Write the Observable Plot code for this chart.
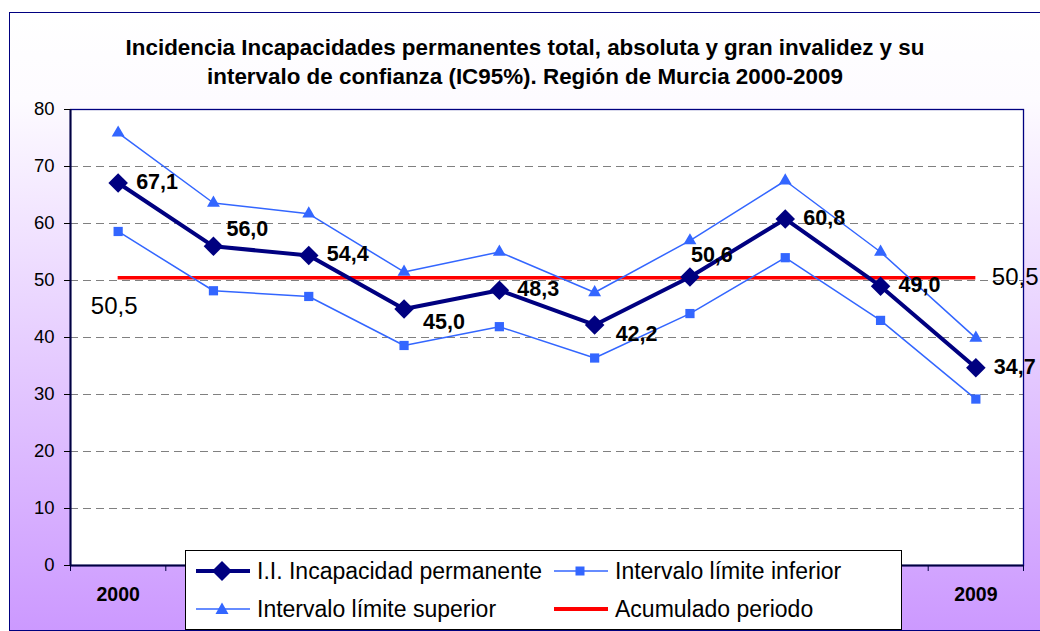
<!DOCTYPE html>
<html>
<head>
<meta charset="utf-8">
<script src="https://cdn.jsdelivr.net/npm/d3@7"></script>
<script src="https://cdn.jsdelivr.net/npm/@observablehq/plot@0.6"></script>
<style>
  body { margin: 0; background: #fff; font-family: "Liberation Sans", Arial, sans-serif; }
  #wrap { position: relative; width: 1040px; height: 631px; overflow: hidden; background: #fff; }
  #frame { position: absolute; left: 9px; top: 12px; width: 1060px; height: 617px;
           border: 1.5px solid #000080;
           background: linear-gradient(to bottom, #ffffff 0%, #fdfbff 14%, #cc99ff 100%); }
  #title { position: absolute; left: 0; width: 1050px; top: 33px; text-align: center;
           font-weight: bold; font-size: 22.4px; line-height: 29px; color: #000; }
  #chart { position: absolute; left: 0; top: 0; }
  #legend { position: absolute; left: 185px; top: 550px; width: 717px; height: 80px;
            background: #fff; border: 1px solid #000; box-sizing: border-box;
            display: grid; grid-template-columns: 358px auto; grid-auto-rows: 38px;
            padding: 1px 0 0 9px; font-size: 23px; color: #000; }
  .item { display: flex; align-items: center; }
  .item svg { margin-right: 6px; flex: none; }
</style>
</head>
<body>
<div id="wrap">
  <div id="frame"></div>
  <div id="title">Incidencia Incapacidades permanentes total, absoluta y gran invalidez y su<br>intervalo de confianza (IC95%). Región de Murcia 2000-2009</div>
  <div id="chart"></div>
  <div id="legend"></div>
</div>
<script>
// ---- data ----
const years = [2000, 2001, 2002, 2003, 2004, 2005, 2006, 2007, 2008, 2009];
const incidencia = [67.1, 56.0, 54.4, 45.0, 48.3, 42.2, 50.6, 60.8, 49.0, 34.7];
const limiteInferior = [58.6, 48.2, 47.2, 38.6, 41.9, 36.4, 44.2, 54.0, 43.0, 29.2];
const limiteSuperior = [75.9, 63.6, 61.7, 51.5, 55.0, 47.9, 57.0, 67.5, 55.0, 39.9];
const acumulado = 50.5;
const yTicks = [0, 10, 20, 30, 40, 50, 60, 70, 80];
const xTickLabels = [2000, 2009]; // the only year labels left visible beside the legend
const seriesNames = ["I.I. Incapacidad permanente", "Intervalo límite inferior", "Intervalo límite superior", "Acumulado periodo"];

// ---- styling ----
const NAVY = "#000080", BLUE = "#3366ff", RED = "#ff0000";
const fmt = v => v.toFixed(1).replace(".", ",");
// label placement (pixel offsets from the point), Excel-style manual placement
const labelOffset = {2001: [13, -17], 2003: [19, 13], 2005: [21, 9], 2006: [1, -22]};
const defaultOffset = [18, -1];

const rows = years.map((yr, i) => ({year: yr, inc: incidencia[i], inf: limiteInferior[i], sup: limiteSuperior[i]}));
const boundaries = years.map(y => y - 0.5).concat([years[years.length - 1] + 0.5]);

const labelMarks = rows.map(r => {
  const [dx, dy] = labelOffset[r.year] || defaultOffset;
  return Plot.text([r], {x: "year", y: "inc", text: d => fmt(d.inc), dx, dy,
    textAnchor: "start", fontWeight: "bold", fontSize: 21.5, fill: "#000"});
});

const chart = Plot.plot({
  width: 1040,
  height: 631,
  marginLeft: 70,
  marginRight: 17,
  marginTop: 109,
  marginBottom: 66,
  style: {background: "transparent", fontFamily: "'Liberation Sans', Arial, sans-serif", overflow: "visible"},
  x: {type: "linear", domain: [boundaries[0], boundaries[boundaries.length - 1]]},
  y: {domain: [0, 80]},
  marks: [
    Plot.frame({fill: "#fff", stroke: "none"}),
    Plot.ruleY(yTicks.filter(t => t > 0 && t < 80), {stroke: "#808080", strokeWidth: 1, strokeDasharray: "8,5"}),
    Plot.frame({stroke: NAVY, strokeWidth: 1.3}),
    Plot.ruleX([boundaries[0]], {stroke: "#000040", strokeWidth: 2}),
    Plot.ruleY([0], {stroke: "#000040", strokeWidth: 2}),
    Plot.axisY({ticks: yTicks, tickSize: 6, tickPadding: 10, fontSize: 18.5, color: "#000", label: null, tickFormat: d => String(d)}),
    Plot.axisX({ticks: boundaries, tickSize: 6, tickFormat: () => "", label: null, color: "#000040"}),
    Plot.axisX({ticks: xTickLabels, tickSize: 0, tickPadding: 22, fontSize: 19.5, fontWeight: "bold", color: "#000", label: null, tickFormat: d => String(d)}),
    Plot.ruleY([acumulado], {x1: years[0], x2: years[years.length - 1], stroke: RED, strokeWidth: 3.5}),
    Plot.line(rows, {x: "year", y: "inf", stroke: BLUE, strokeWidth: 1.5}),
    Plot.dot(rows, {x: "year", y: "inf", symbol: "square", r: 5.2, fill: BLUE, stroke: "none"}),
    Plot.line(rows, {x: "year", y: "sup", stroke: BLUE, strokeWidth: 1.5}),
    Plot.dot(rows, {x: "year", y: "sup", symbol: "triangle", r: 4.8, fill: BLUE, stroke: "none"}),
    Plot.line(rows, {x: "year", y: "inc", stroke: NAVY, strokeWidth: 4}),
    Plot.dot(rows, {x: "year", y: "inc", symbol: "diamond2", r: 8.8, fill: NAVY, stroke: "none"}),
    ...labelMarks,
    Plot.text([acumulado], {x: years[0], y: d => d, text: d => fmt(d), dx: -4, dy: 29, fontSize: 24, fill: "#000"}),
    Plot.text([acumulado], {x: years[years.length - 1], y: d => d, text: d => fmt(d), dx: 16, dy: 0, textAnchor: "start", fontSize: 24, fill: "#000"})
  ]
});
document.getElementById("chart").appendChild(chart);

// ---- legend ----
const legendSwatches = [
  `<svg width="56" height="24"><line x1="1" y1="12" x2="55" y2="12" stroke="${NAVY}" stroke-width="4"/><path d="M27,2 L37,12 L27,22 L17,12 Z" fill="${NAVY}"/></svg>`,
  `<svg width="56" height="24"><line x1="1" y1="12" x2="55" y2="12" stroke="${BLUE}" stroke-width="1.5"/><rect x="22.5" y="7.5" width="9" height="9" fill="${BLUE}"/></svg>`,
  `<svg width="56" height="24"><line x1="1" y1="12" x2="55" y2="12" stroke="${BLUE}" stroke-width="1.5"/><path d="M27,5.5 L33.5,17 L20.5,17 Z" fill="${BLUE}"/></svg>`,
  `<svg width="56" height="24"><line x1="1" y1="12" x2="55" y2="12" stroke="${RED}" stroke-width="4"/></svg>`
];
const legend = document.getElementById("legend");
seriesNames.forEach((name, i) => {
  const div = document.createElement("div");
  div.className = "item";
  div.innerHTML = legendSwatches[i];
  const span = document.createElement("span");
  span.textContent = name;
  div.appendChild(span);
  legend.appendChild(div);
});
</script>
</body>
</html>
